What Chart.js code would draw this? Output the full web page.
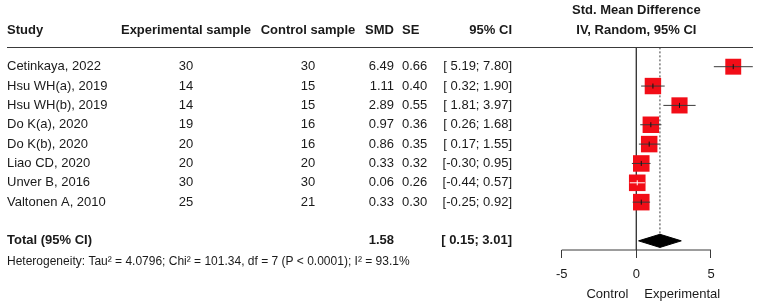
<!DOCTYPE html>
<html>
<head>
<meta charset="utf-8">
<script src="https://cdn.jsdelivr.net/npm/chart.js@4"></script>
<style>
  body { margin: 0; background: #fff; }
  #wrap { width: 760px; height: 303px; position: relative; }
</style>
</head>
<body>
<div id="wrap"><canvas id="forest"></canvas></div>
<script>
// study data
const studies = ['Cetinkaya, 2022', 'Hsu WH(a), 2019', 'Hsu WH(b), 2019', 'Do K(a), 2020',
  'Do K(b), 2020', 'Liao CD, 2020', 'Unver B, 2016', 'Valtonen A, 2010'];
const expN = [30, 14, 14, 19, 20, 20, 30, 25];
const ctrlN = [30, 15, 15, 16, 16, 20, 30, 21];
const smd = [6.49, 1.11, 2.89, 0.97, 0.86, 0.33, 0.06, 0.33];
const se = [0.66, 0.40, 0.55, 0.36, 0.35, 0.32, 0.26, 0.30];
const ciLow = [5.19, 0.32, 1.81, 0.26, 0.17, -0.30, -0.44, -0.25];
const ciHigh = [7.80, 1.90, 3.97, 1.68, 1.55, 0.95, 0.57, 0.92];

// pooled (random effects)
const pooled = 1.58;
const pooledLow = 0.15;
const pooledHigh = 3.01;
const tau2 = 4.0796;
const chi2 = 101.34;
const df = 7;
const pText = 'P < 0.0001';
const i2 = 93.1;

const xTicks = [-5, 0, 5];

const FONT = '"Liberation Sans", Arial, sans-serif';
const RED = '#f20d17';
const INK = '#1a1a1a';
const LINE = '#3a3a3a';

const totalRow = studies.length + 1;
const axisRow = 9.473;

// random-effects weight decides square size
const weights = se.map(s => 1 / (s * s + tau2));
const wMax = Math.max(...weights);
const side = i => 16.6 * Math.sqrt(weights[i] / wMax);

function ciInsideBox(chart, i) {
  const x = chart.scales.x;
  const w = x.getPixelForValue(ciHigh[i]) - x.getPixelForValue(ciLow[i]);
  return w < side(i);
}

const datasets = [];

// reference lines + axis line
datasets.push({
  data: [{x: 0, y: -1}, {x: 0, y: axisRow}],
  showLine: true, borderColor: LINE, borderWidth: 1, pointRadius: 0, order: 10
});
datasets.push({
  data: [{x: pooled, y: -1}, {x: pooled, y: totalRow - 0.34}],
  showLine: true, borderColor: LINE, borderWidth: 1, borderDash: [2, 2], pointRadius: 0, order: 10
});
datasets.push({
  data: [{x: xTicks[0], y: axisRow}, {x: xTicks[xTicks.length - 1], y: axisRow}],
  showLine: true, borderColor: LINE, borderWidth: 1, pointRadius: 0, order: 10
});

// squares
datasets.push({
  data: smd.map((v, i) => ({x: v, y: i})),
  pointStyle: 'rect',
  pointRadius: ctx => side(ctx.dataIndex) / Math.SQRT2,
  backgroundColor: RED,
  borderWidth: 0,
  order: 5
});

// CI lines
studies.forEach((s, i) => {
  datasets.push({
    data: [{x: ciLow[i], y: i}, {x: ciHigh[i], y: i}],
    showLine: true,
    borderColor: ctx => ciInsideBox(ctx.chart, i) ? '#ffffff' : LINE,
    borderWidth: 1,
    pointRadius: 0,
    order: 3
  });
});

// estimate marks
datasets.push({
  data: smd.map((v, i) => ({x: v, y: i})),
  pointStyle: 'line',
  rotation: 90,
  pointRadius: 2.5,
  borderWidth: 1,
  borderColor: ctx => ciInsideBox(ctx.chart, ctx.dataIndex) ? '#ffffff' : '#111',
  order: 2
});

// diamond
const dh = 0.34;
datasets.push({
  data: [
    {x: pooledLow, y: totalRow}, {x: pooled, y: totalRow - dh},
    {x: pooledHigh, y: totalRow}, {x: pooled, y: totalRow + dh},
    {x: pooledLow, y: totalRow}
  ],
  showLine: true, fill: 'shape', tension: 0,
  borderColor: '#000', backgroundColor: '#000', borderWidth: 1, pointRadius: 0, order: 1
});

datasets.forEach(d => { d.clip = false; });

const tablePlugin = {
  id: 'table',
  afterDraw(chart) {
    const {ctx, scales: {x, y}} = chart;
    const row = v => y.getPixelForValue(v);
    const zero = x.getPixelForValue(0);
    ctx.save();
    ctx.fillStyle = INK;
    ctx.textBaseline = 'middle';
    const text = (s, px, py, align, font) => {
      ctx.font = font;
      ctx.textAlign = align;
      ctx.fillText(s, px, py);
    };
    const bold = 'bold 13px ' + FONT;
    const reg = '13px ' + FONT;

    // header
    text('Std. Mean Difference', zero, row(-2.9), 'center', bold);
    text('IV, Random, 95% CI', zero, row(-1.9), 'center', bold);
    const hy = row(-1.9);
    text('Study', 7, hy, 'left', bold);
    text('Experimental sample', 186, hy, 'center', bold);
    text('Control sample', 308, hy, 'center', bold);
    text('SMD', 394, hy, 'right', bold);
    text('SE', 402, hy, 'left', bold);
    text('95% CI', 512, hy, 'right', bold);

    ctx.strokeStyle = LINE;
    ctx.lineWidth = 1;
    ctx.beginPath();
    ctx.moveTo(7, Math.round(row(-1)) + 0.5);
    ctx.lineTo(753, Math.round(row(-1)) + 0.5);
    ctx.stroke();

    const ci = (lo, hi) => '[' + (lo < 0 ? '' : ' ') + lo.toFixed(2) + '; ' + hi.toFixed(2) + ']';

    studies.forEach((s, i) => {
      const py = row(i);
      text(s, 7, py, 'left', reg);
      text(String(expN[i]), 186, py, 'center', reg);
      text(String(ctrlN[i]), 308, py, 'center', reg);
      text(smd[i].toFixed(2), 394, py, 'right', reg);
      text(se[i].toFixed(2), 402, py, 'left', reg);
      text(ci(ciLow[i], ciHigh[i]), 512, py, 'right', reg);
    });

    const ty = row(totalRow);
    text('Total (95% CI)', 7, ty, 'left', bold);
    text(pooled.toFixed(2), 394, ty, 'right', bold);
    text(ci(pooledLow, pooledHigh), 512, ty, 'right', bold);

    text('Heterogeneity: Tau\u00b2 = ' + tau2.toFixed(4) + '; Chi\u00b2 = ' + chi2.toFixed(2) +
      ', df = ' + df + ' (' + pText + '); I\u00b2 = ' + i2.toFixed(1) + '%',
      7, row(10.1), 'left', '12px ' + FONT);

    const ly = row(11.75);
    text('Control', zero - 8, ly, 'right', reg);
    text('Experimental', zero + 8, ly, 'left', reg);
    ctx.restore();
  }
};

new Chart(document.getElementById('forest'), {
  type: 'scatter',
  data: { datasets },
  options: {
    responsive: true,
    maintainAspectRatio: false,
    animation: false,
    layout: { autoPadding: false, padding: { left: 561.7, right: 0, top: 0, bottom: 0 } },
    plugins: { legend: { display: false }, tooltip: { enabled: false } },
    scales: {
      x: {
        type: 'linear', min: -5, max: 8.282,
        afterFit(scale) { scale.height = 53; },
        afterBuildTicks(scale) { scale.ticks = xTicks.map(v => ({value: v})); },
        ticks: { color: INK, padding: 9, font: { family: FONT, size: 13 } },
        grid: { drawOnChartArea: false, tickLength: 8, color: LINE },
        border: { display: false }
      },
      y: { type: 'linear', reverse: true, min: -3.447, max: axisRow, display: false }
    }
  },
  plugins: [tablePlugin]
});
</script>
</body>
</html>
